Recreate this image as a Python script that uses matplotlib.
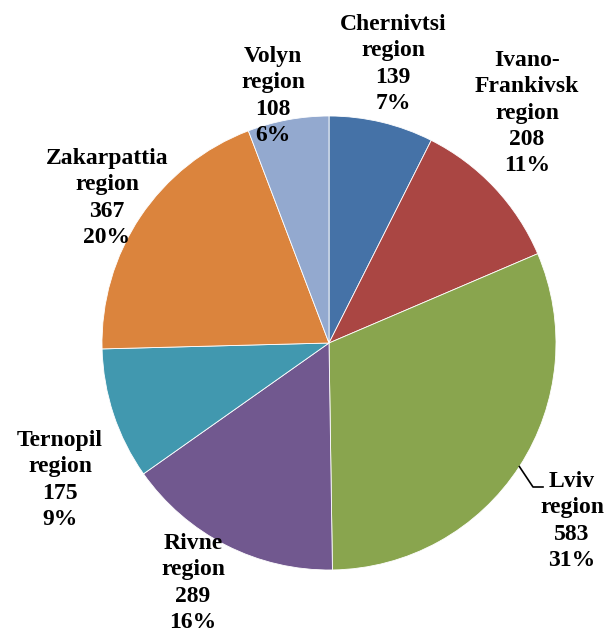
import numpy as np
import matplotlib
matplotlib.use("Agg")
import matplotlib.pyplot as plt

# data
regions = ["Chernivtsi\nregion", "Ivano-\nFrankivsk\nregion", "Lviv\nregion",
           "Rivne\nregion", "Ternopil\nregion", "Zakarpattia\nregion", "Volyn\nregion"]
counts = [139, 208, 583, 289, 175, 367, 108]
percents = ["7%", "11%", "31%", "16%", "9%", "20%", "6%"]  # as printed on the chart
colors = ["#4572A7", "#AA4643", "#89A54E", "#71588F", "#4198AF", "#DB843D", "#93A9CF"]

# label centres in pixel coords (x, y from top)
label_pos = [(393, 64), (527, 113), (572, 521), (193, 583), (60, 480), (107, 198), (273, 96)]

W, H = 615, 635
cx, cy, R = 329, H - 343, 227

fig = plt.figure(figsize=(W / 100, H / 100), dpi=100)
ax = fig.add_axes([0, 0, 1, 1])

wedges, _ = ax.pie(counts, colors=colors, startangle=90, counterclock=False,
                   center=(cx, cy), radius=R,
                   wedgeprops=dict(edgecolor="white", linewidth=0.6))

# pie resets the limits, so set them afterwards
ax.set_xlim(0, W)
ax.set_ylim(0, H)
ax.set_aspect("equal")
ax.axis("off")

for name, val, pct, (lx, ly) in zip(regions, counts, percents, label_pos):
    ax.text(lx, H - ly, f"{name}\n{val}\n{pct}", ha="center", va="center",
            fontsize=17, fontweight="bold", family="Liberation Serif",
            linespacing=1.32, color="black")

# leader line for Lviv
w = wedges[2]
mid = np.deg2rad((w.theta1 + w.theta2) / 2)
x0, y0 = cx + R * np.cos(mid), cy + R * np.sin(mid)
ax.plot([x0, 533, 543], [y0, H - 487, H - 487], color="black", linewidth=1.2)

fig.savefig("out.png", dpi=100)
